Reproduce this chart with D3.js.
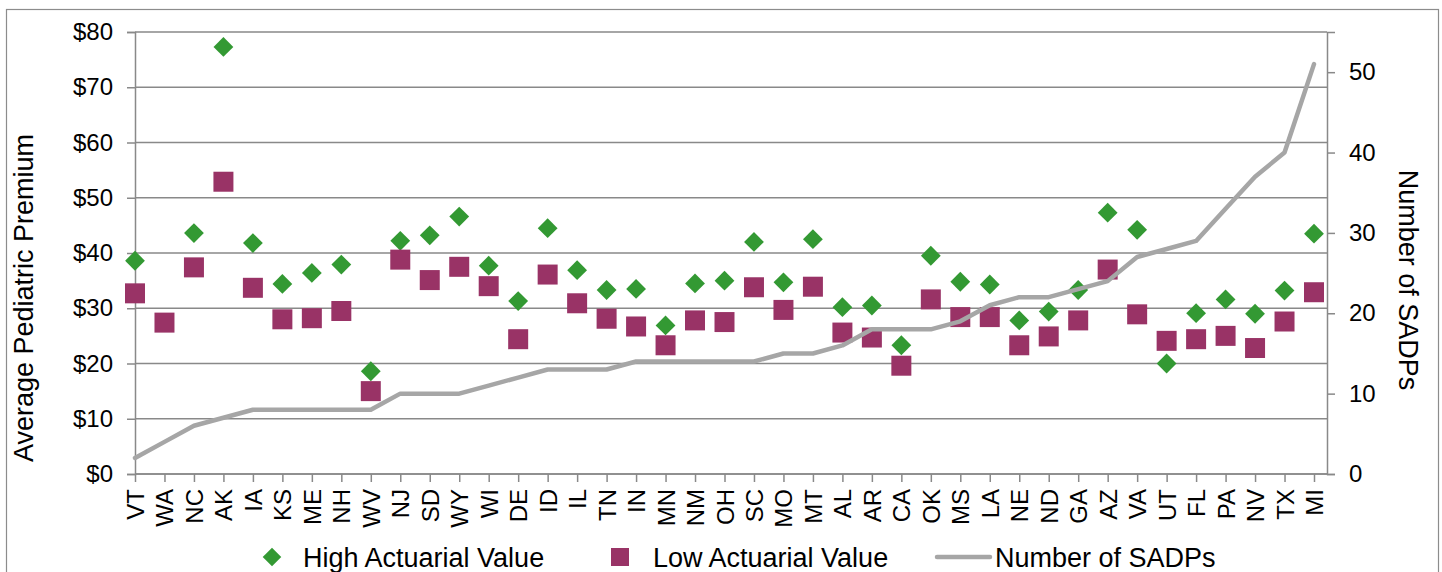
<!DOCTYPE html>
<html>
<head>
<meta charset="utf-8">
<script src="https://cdn.jsdelivr.net/npm/d3@7"></script>
<style>
  html, body { margin: 0; padding: 0; background: #fff; }
  svg { display: block; font-family: "Liberation Sans", Arial, sans-serif; }
</style>
</head>
<body>
<svg id="chart" width="1442" height="572"></svg>
<script>
const states = ["VT","WA","NC","AK","IA","KS","ME","NH","WV","NJ","SD","WY","WI","DE","ID","IL","TN","IN","MN","NM","OH","SC","MO","MT","AL","AR","CA","OK","MS","LA","NE","ND","GA","AZ","VA","UT","FL","PA","NV","TX","MI"];
const highAV = [38.6,null,43.6,77.3,41.8,34.4,36.4,37.9,18.6,42.2,43.2,46.6,37.7,31.3,44.5,36.9,33.3,33.5,26.9,34.5,35.0,42.0,34.7,42.5,30.2,30.5,23.3,39.5,34.8,34.3,27.8,29.4,33.3,47.3,44.2,20.0,29.1,31.6,29.0,33.2,43.5];
const lowAV = [32.7,27.4,37.4,52.9,33.7,28.0,28.2,29.5,15.0,38.8,35.1,37.5,34.0,24.4,36.1,30.9,28.1,26.7,23.3,27.8,27.5,33.8,29.7,33.9,25.6,24.7,19.6,31.6,28.4,28.4,23.3,24.9,27.8,37.0,28.9,24.1,24.4,25.0,22.8,27.6,32.9];
const sadps = [2,4,6,7,8,8,8,8,8,10,10,10,11,12,13,13,13,14,14,14,14,14,15,15,16,18,18,18,19,21,22,22,23,24,27,28,29,33,37,40,51];
const leftTicks = [0,10,20,30,40,50,60,70,80];
const rightTicks = [0,10,20,30,40,50];
const legendLabels = ["High Actuarial Value","Low Actuarial Value","Number of SADPs"];

const green = "#339933", purple = "#993366", lineGray = "#a6a6a6", axisGray = "#898989";
const plot = {left: 135, right: 1327, top: 32, bottom: 474};
const FONT = "Liberation Sans, Arial, sans-serif";

const svg = d3.select("#chart");
svg.append("rect").attr("x",6.5).attr("y",9.5).attr("width",1432).attr("height",600)
  .attr("fill","#fff").attr("stroke","#8c8c8c").attr("stroke-width",1.2);

const x = d3.scalePoint().domain(states).range([plot.left, 1314]);
const yL = d3.scaleLinear().domain([0,80]).range([plot.bottom, plot.top]);
const yR = d3.scaleLinear().domain([0,55]).range([plot.bottom, plot.top]);

// gridlines
svg.append("g").selectAll("line").data(leftTicks).join("line")
  .attr("x1",plot.left).attr("x2",plot.right)
  .attr("y1",d=>yL(d)).attr("y2",d=>yL(d))
  .attr("stroke",axisGray).attr("stroke-width",1.5);

// left axis
const gl = svg.append("g").attr("transform",`translate(${plot.left},0)`)
  .call(d3.axisLeft(yL).tickValues(leftTicks).tickFormat(d=>"$"+d).tickSize(8).tickPadding(14));
gl.select(".domain").attr("stroke",axisGray).attr("stroke-width",1.5);
gl.selectAll(".tick line").attr("stroke",axisGray).attr("stroke-width",1.5);
gl.selectAll(".tick text").attr("font-size",24).attr("fill","#000").attr("font-family",FONT);

// right axis
const gr = svg.append("g").attr("transform",`translate(${plot.right},0)`)
  .call(d3.axisRight(yR).tickValues(rightTicks).tickSize(8).tickPadding(14));
gr.select(".domain").attr("stroke",axisGray).attr("stroke-width",1.5);
gr.selectAll(".tick line").attr("stroke",axisGray).attr("stroke-width",1.5);
gr.selectAll(".tick text").attr("font-size",24).attr("fill","#000").attr("font-family",FONT);

// x axis
const gx = svg.append("g").attr("transform",`translate(0,${plot.bottom})`)
  .call(d3.axisBottom(x).tickSize(8).tickSizeOuter(0));
gx.select(".domain").attr("d",`M${plot.left},0H${plot.right}`).attr("stroke",axisGray).attr("stroke-width",1.5);
gx.selectAll(".tick line").attr("stroke",axisGray).attr("stroke-width",1.5);
gx.selectAll(".tick text").attr("font-size",24).attr("fill","#000")
  .attr("font-family",FONT)
  .attr("text-anchor","end").attr("dy",null).attr("y",0)
  .attr("transform","translate(8.5,15) rotate(-90)");

// axis titles
svg.append("text").attr("transform","translate(33,298) rotate(-90)")
  .attr("text-anchor","middle").attr("font-size",27).attr("fill","#000").text("Average Pediatric Premium");
svg.append("text").attr("transform","translate(1399,280) rotate(90)")
  .attr("text-anchor","middle").attr("font-size",27).attr("fill","#000").text("Number of SADPs");

// markers
const diamond = d3.symbol().type(d3.symbolDiamond2).size(250);
const square = d3.symbol().type(d3.symbolSquare).size(400);
svg.append("g").selectAll("path").data(states.map((s,i)=>({s,v:highAV[i]})).filter(d=>d.v!=null)).join("path")
  .attr("d",diamond).attr("transform",d=>`translate(${x(d.s)},${yL(d.v)})`).attr("fill",green);
svg.append("g").selectAll("path").data(states.map((s,i)=>({s,v:lowAV[i]})).filter(d=>d.v!=null)).join("path")
  .attr("d",square).attr("transform",d=>`translate(${x(d.s)},${yL(d.v)})`).attr("fill",purple);

// line
const line = d3.line().x((d,i)=>x(states[i])).y(d=>yR(d));
svg.append("path").datum(sadps).attr("d",line).attr("fill","none")
  .attr("stroke",lineGray).attr("stroke-width",4.5).attr("stroke-linejoin","round").attr("stroke-linecap","round");

// legend
const ly = 557;
svg.append("path").attr("d",d3.symbol().type(d3.symbolDiamond2).size(220)()).attr("transform",`translate(272,${ly})`).attr("fill",green);
svg.append("text").attr("x",303).attr("y",ly+9.5).attr("font-size",27).text(legendLabels[0]);
svg.append("path").attr("d",d3.symbol().type(d3.symbolSquare).size(324)()).attr("transform",`translate(620,${ly})`).attr("fill",purple);
svg.append("text").attr("x",653).attr("y",ly+9.5).attr("font-size",27).text(legendLabels[1]);
svg.append("line").attr("x1",937).attr("x2",990).attr("y1",ly).attr("y2",ly)
  .attr("stroke",lineGray).attr("stroke-width",4.5).attr("stroke-linecap","round");
svg.append("text").attr("x",995).attr("y",ly+9.5).attr("font-size",27).text(legendLabels[2]);
</script>
</body>
</html>
